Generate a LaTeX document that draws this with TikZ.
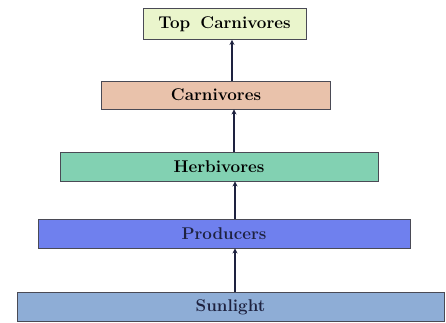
\documentclass[tikz,border=0pt]{standalone}
\usetikzlibrary{arrows.meta}
\definecolor{topc}{HTML}{EAF5CC}
\definecolor{carc}{HTML}{E9C2AB}
\definecolor{herc}{HTML}{82D1B2}
\definecolor{proc}{HTML}{6F80EE}
\definecolor{sunc}{HTML}{8EADD6}
\definecolor{edgec}{HTML}{4A4A55}
\definecolor{linec}{HTML}{1E2240}
\tikzset{
  level/.style={draw=edgec, line width=0.9pt, inner sep=0pt, font=\fontsize{17}{19}\selectfont\bfseries},
  flow/.style={draw=linec, line width=1.2pt, -{Stealth[length=5pt,width=5pt]}}
}
\begin{document}
\begin{tikzpicture}[x=1pt,y=-1pt]
\useasboundingbox (0,0) rectangle (446,322);
\node[level, fill=topc, minimum width=163pt, minimum height=31pt] (top) at (224.5,24) {Top\hspace{0.6em}Carnivores};
\node[level, fill=carc, minimum width=229pt, minimum height=28pt] (car) at (216,95) {Carnivores};
\node[level, fill=herc, minimum width=318pt, minimum height=29pt] (her) at (219,166.5) {Herbivores};
\node[level, fill=proc, text=linec, minimum width=372pt, minimum height=29pt] (pro) at (224,233.5) {Producers};
\node[level, fill=sunc, text=linec, minimum width=427pt, minimum height=29pt] (sun) at (230.5,307) {Sunlight};
\draw[flow] (sun.north -| 235,0) -- (pro.south -| 235,0);
\draw[flow] (pro.north -| 235,0) -- (her.south -| 235,0);
\draw[flow] (her.north -| 234,0) -- (car.south -| 234,0);
\draw[flow] (car.north -| 232,0) -- (top.south -| 232,0);
\end{tikzpicture}
\end{document}
